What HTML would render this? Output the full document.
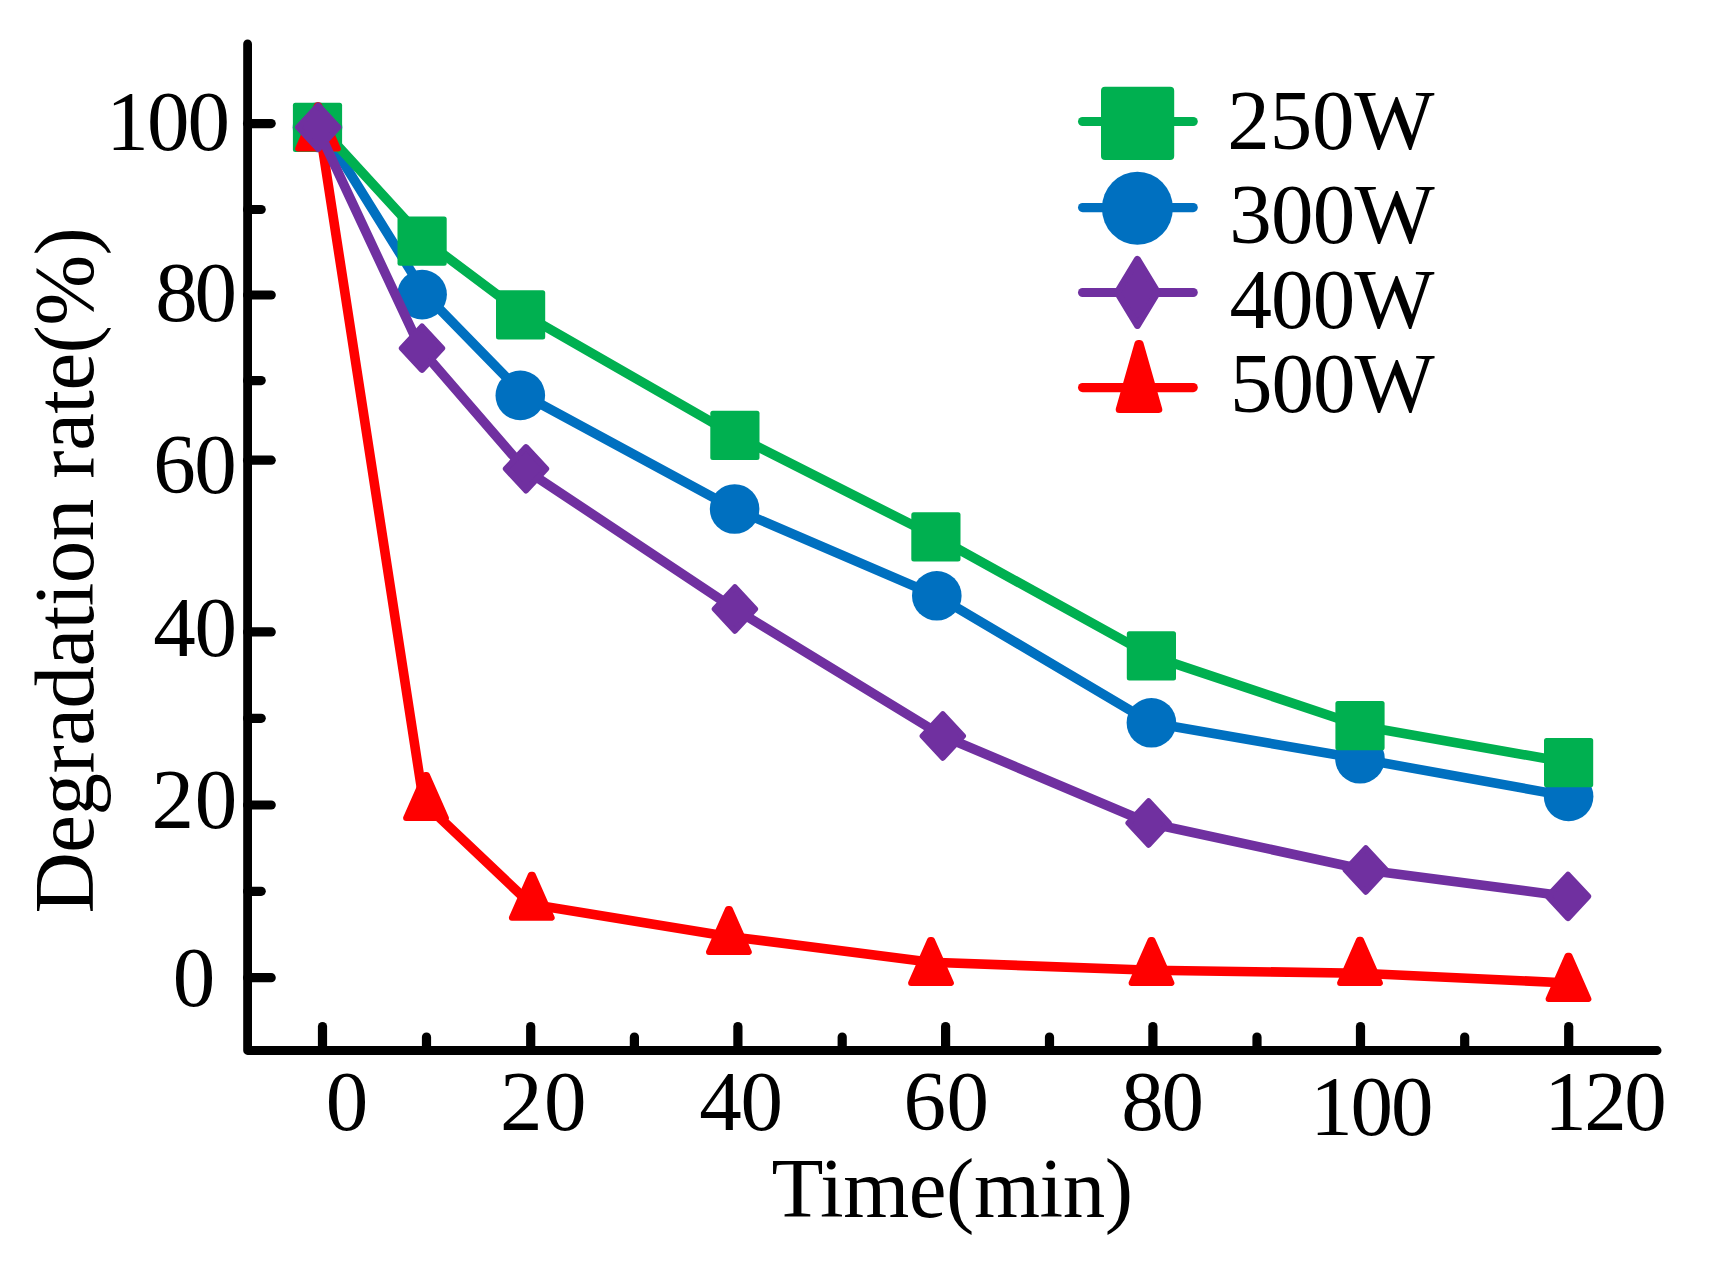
<!DOCTYPE html>
<html lang="en"><head><meta charset="utf-8"><title>Degradation rate vs Time</title>
<style>
html,body{margin:0;padding:0;background:#fff;}
body{width:1714px;height:1262px;overflow:hidden;}
svg{display:block;position:absolute;left:0;top:0;}
text{font-family:"Liberation Serif","Times New Roman",serif;font-size:85px;fill:#000;}
</style></head><body>
<svg width="1714" height="1262" viewBox="0 0 1714 1262">
<rect width="1714" height="1262" fill="#fff"/>
<g stroke="#000" fill="none" stroke-linecap="round" stroke-linejoin="round">
<polyline points="247.6,43.9 247.6,1050.5 1657.1,1050.5" stroke-width="8.8"/>
<line x1="247.6" y1="123.6" x2="271.2" y2="123.6" stroke-width="9.2"/>
<line x1="247.6" y1="295" x2="271.2" y2="295" stroke-width="9.2"/>
<line x1="247.6" y1="460.2" x2="271.2" y2="460.2" stroke-width="9.2"/>
<line x1="247.6" y1="631.9" x2="271.2" y2="631.9" stroke-width="9.2"/>
<line x1="247.6" y1="805" x2="271.2" y2="805" stroke-width="9.2"/>
<line x1="247.6" y1="977.7" x2="271.2" y2="977.7" stroke-width="9.2"/>
<line x1="247.6" y1="209.5" x2="261.2" y2="209.5" stroke-width="9.2"/>
<line x1="247.6" y1="380.6" x2="261.2" y2="380.6" stroke-width="9.2"/>
<line x1="247.6" y1="718.3" x2="261.2" y2="718.3" stroke-width="9.2"/>
<line x1="247.6" y1="891.3" x2="261.2" y2="891.3" stroke-width="9.2"/>
<line x1="322.5" y1="1050.5" x2="322.5" y2="1026.5" stroke-width="9.2"/>
<line x1="530.7" y1="1050.5" x2="530.7" y2="1026.5" stroke-width="9.2"/>
<line x1="737.9" y1="1050.5" x2="737.9" y2="1026.5" stroke-width="9.2"/>
<line x1="945.6" y1="1050.5" x2="945.6" y2="1026.5" stroke-width="9.2"/>
<line x1="1152.9" y1="1050.5" x2="1152.9" y2="1026.5" stroke-width="9.2"/>
<line x1="1360.5" y1="1050.5" x2="1360.5" y2="1026.5" stroke-width="9.2"/>
<line x1="1568.7" y1="1050.5" x2="1568.7" y2="1026.5" stroke-width="9.2"/>
<line x1="426.5" y1="1050.5" x2="426.5" y2="1037.0" stroke-width="9.2"/>
<line x1="634.4" y1="1050.5" x2="634.4" y2="1037.0" stroke-width="9.2"/>
<line x1="842.2" y1="1050.5" x2="842.2" y2="1037.0" stroke-width="9.2"/>
<line x1="1049.5" y1="1050.5" x2="1049.5" y2="1037.0" stroke-width="9.2"/>
<line x1="1257" y1="1050.5" x2="1257" y2="1037.0" stroke-width="9.2"/>
<line x1="1464.7" y1="1050.5" x2="1464.7" y2="1037.0" stroke-width="9.2"/>
</g>
<g id="s300"><polyline points="321.5,127.4 425.5,294.6 523.0,394.5 734.6,509.0 936.8,595.8 1151.4,722.8 1360.0,758.8 1568.6,796.4" fill="none" stroke="#0070C0" stroke-width="9.6" stroke-linejoin="round" stroke-linecap="round"/><circle cx="317.5" cy="127.4" r="24.8" fill="#0070C0"/><circle cx="422.1" cy="294.6" r="24.8" fill="#0070C0"/><circle cx="520.3" cy="395.4" r="24.8" fill="#0070C0"/><circle cx="734.6" cy="509.0" r="24.8" fill="#0070C0"/><circle cx="936.8" cy="595.8" r="24.8" fill="#0070C0"/><circle cx="1151.4" cy="722.8" r="24.8" fill="#0070C0"/><circle cx="1360.0" cy="758.8" r="24.8" fill="#0070C0"/><circle cx="1568.6" cy="796.4" r="24.8" fill="#0070C0"/></g>
<g id="s250"><polyline points="320.0,126.4 423.3,239.3 521.1,312.6 734.9,435.3 935.9,536.8 1151.4,655.9 1360.0,725.7 1568.6,762.6" fill="none" stroke="#00B050" stroke-width="9.6" stroke-linejoin="round" stroke-linecap="round"/><rect x="292.9" y="102.8" width="49.2" height="49.2" rx="2.5" fill="#00B050"/><rect x="397.5" y="216.6" width="49.2" height="49.2" rx="2.5" fill="#00B050"/><rect x="496.0" y="290.3" width="49.2" height="49.2" rx="2.5" fill="#00B050"/><rect x="710.3" y="410.7" width="49.2" height="49.2" rx="2.5" fill="#00B050"/><rect x="911.3" y="512.2" width="49.2" height="49.2" rx="2.5" fill="#00B050"/><rect x="1126.8" y="631.3" width="49.2" height="49.2" rx="2.5" fill="#00B050"/><rect x="1335.4" y="701.1" width="49.2" height="49.2" rx="2.5" fill="#00B050"/><rect x="1544.0" y="738.0" width="49.2" height="49.2" rx="2.5" fill="#00B050"/></g>
<g id="s500"><polyline points="319.5,128.0 423.6,802.6 531.0,904.3 728.6,936.4 931.0,962.3 1151.5,970.2 1360.0,973.2 1568.5,983.0" fill="none" stroke="#FF0000" stroke-width="9.6" stroke-linejoin="round" stroke-linecap="round"/><polygon points="317.1,105.3 318.9,105.3 337.9,148.6 298.1,148.6" fill="#FF0000" stroke="#FF0000" stroke-width="6" stroke-linejoin="round"/><polygon points="425.1,774.9 426.9,774.9 445.9,817.9 406.1,817.9" fill="#FF0000" stroke="#FF0000" stroke-width="6" stroke-linejoin="round"/><polygon points="530.9,874.7 532.7,874.7 551.7,917.8 511.9,917.8" fill="#FF0000" stroke="#FF0000" stroke-width="6" stroke-linejoin="round"/><polygon points="728.0,909.0 729.8,909.0 748.8,951.9 709.0,951.9" fill="#FF0000" stroke="#FF0000" stroke-width="6" stroke-linejoin="round"/><polygon points="930.1,940.0 931.9,940.0 950.9,983.0 911.1,983.0" fill="#FF0000" stroke="#FF0000" stroke-width="6" stroke-linejoin="round"/><polygon points="1150.6,940.0 1152.4,940.0 1171.4,983.0 1131.6,983.0" fill="#FF0000" stroke="#FF0000" stroke-width="6" stroke-linejoin="round"/><polygon points="1359.1,939.7 1360.9,939.7 1379.9,982.9 1340.1,982.9" fill="#FF0000" stroke="#FF0000" stroke-width="6" stroke-linejoin="round"/><polygon points="1567.6,955.8 1569.4,955.8 1588.4,999.0 1548.6,999.0" fill="#FF0000" stroke="#FF0000" stroke-width="6" stroke-linejoin="round"/></g>
<g id="s400"><polyline points="317.0,127.3 420.6,348.8 525.0,469.4 734.9,609.0 942.8,736.0 1148.6,823.0 1365.8,870.0 1568.0,896.4" fill="none" stroke="#7030A0" stroke-width="9.6" stroke-linejoin="round" stroke-linecap="round"/><polygon points="318.2,105.6 338.4,127.3 318.2,149.0 298.0,127.3" fill="#7030A0" stroke="#7030A0" stroke-width="6" stroke-linejoin="round"/><polygon points="422.0,326.5 442.2,348.2 422.0,369.9 401.8,348.2" fill="#7030A0" stroke="#7030A0" stroke-width="6" stroke-linejoin="round"/><polygon points="526.0,447.1 546.2,468.8 526.0,490.5 505.8,468.8" fill="#7030A0" stroke="#7030A0" stroke-width="6" stroke-linejoin="round"/><polygon points="734.9,587.3 755.1,609.0 734.9,630.7 714.7,609.0" fill="#7030A0" stroke="#7030A0" stroke-width="6" stroke-linejoin="round"/><polygon points="942.8,714.3 963.0,736.0 942.8,757.7 922.6,736.0" fill="#7030A0" stroke="#7030A0" stroke-width="6" stroke-linejoin="round"/><polygon points="1148.6,801.3 1168.8,823.0 1148.6,844.7 1128.4,823.0" fill="#7030A0" stroke="#7030A0" stroke-width="6" stroke-linejoin="round"/><polygon points="1365.8,848.3 1386.0,870.0 1365.8,891.7 1345.6,870.0" fill="#7030A0" stroke="#7030A0" stroke-width="6" stroke-linejoin="round"/><polygon points="1568.0,874.7 1588.2,896.4 1568.0,918.1 1547.8,896.4" fill="#7030A0" stroke="#7030A0" stroke-width="6" stroke-linejoin="round"/></g>
<g id="legend">
<line x1="1082.6" y1="121.5" x2="1193.2" y2="121.5" stroke="#00B050" stroke-width="9.2" stroke-linecap="round"/><rect x="1101.0" y="86.8" width="73.2" height="73.2" rx="4" fill="#00B050"/>
<line x1="1082.6" y1="207.6" x2="1193.2" y2="207.6" stroke="#0070C0" stroke-width="9.2" stroke-linecap="round"/><ellipse cx="1137.4" cy="208.3" rx="35.5" ry="36.5" fill="#0070C0"/>
<line x1="1082.6" y1="292.5" x2="1193.2" y2="292.5" stroke="#7030A0" stroke-width="9.2" stroke-linecap="round"/><polygon points="1137.4,259.4 1157.4,292.4 1137.4,325.4 1117.4,292.4" fill="#7030A0" stroke="#7030A0" stroke-width="7" stroke-linejoin="round"/>
<line x1="1082.6" y1="387.6" x2="1193.2" y2="387.6" stroke="#FF0000" stroke-width="9.2" stroke-linecap="round"/><polygon points="1138.0,343.5 1140.0,343.5 1158.8,409.4 1119.2,409.4" fill="#FF0000" stroke="#FF0000" stroke-width="7" stroke-linejoin="round"/>
</g>
<text id="y100" x="106.2" y="150.4" letter-spacing="-1.81">100</text>
<text id="y80" x="155.2" y="321.2" letter-spacing="-3.24">80</text>
<text id="y60" x="153.3" y="493.0" letter-spacing="-1.43">60</text>
<text id="y40" x="153.2" y="655.7" letter-spacing="-1.24">40</text>
<text id="y20" x="151.5" y="827.8" letter-spacing="0.82">20</text>
<text id="y0" x="172.7" y="1006.3">0</text>
<text id="x0" x="325.7" y="1130.4">0</text>
<text id="x20" x="499.9" y="1129.6" letter-spacing="1.65">20</text>
<text id="x40" x="699.2" y="1129.5" letter-spacing="-1.18">40</text>
<text id="x60" x="903.5" y="1129.5" letter-spacing="0.47">60</text>
<text id="x80" x="1121.2" y="1129.5" letter-spacing="-2.24">80</text>
<text id="x100" x="1310.2" y="1134.5" letter-spacing="-2.12">100</text>
<text id="x120" x="1544.2" y="1129.6" letter-spacing="-2.42">120</text>
<text id="l250" x="1227.3" y="149.0" letter-spacing="-0.16">250W</text>
<text id="l300" x="1229.2" y="242.5" letter-spacing="-0.74">300W</text>
<text id="l400" x="1229.4" y="327.5" letter-spacing="-0.85">400W</text>
<text id="l500" x="1229.9" y="412.0" letter-spacing="-0.95">500W</text>
<text id="xt" x="771.5" y="1217.3" letter-spacing="-0.45">Time(min)</text>
<text id="yt" transform="translate(92.6,913.5) rotate(-90)" letter-spacing="-0.54">Degradation rate(%)</text>
</svg></body></html>
